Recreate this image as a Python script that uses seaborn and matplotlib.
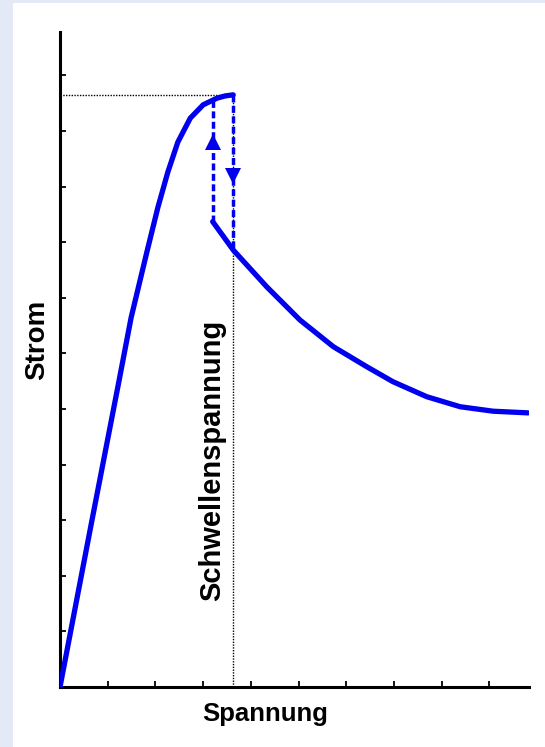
import matplotlib
matplotlib.use("Agg")
import matplotlib.pyplot as plt
import seaborn as sns
import pandas as pd
from matplotlib.patches import Rectangle

# data (in tick units)
rise_x = [0.0, 0.65, 1.22, 1.49, 1.82, 2.05, 2.26, 2.47, 2.73, 3.00, 3.29, 3.46, 3.63]
rise_y = [0.0, 2.91, 5.43, 6.64, 7.82, 8.62, 9.26, 9.80, 10.23, 10.47, 10.59, 10.63, 10.65]
fall_x = [3.20, 3.63, 4.33, 5.03, 5.73, 6.43, 6.98, 7.69, 8.39, 9.08, 9.81]
fall_y = [8.37, 7.86, 7.20, 6.60, 6.12, 5.76, 5.49, 5.22, 5.04, 4.96, 4.93]
up_x, up_y0, up_y1 = 3.20, 8.37, 10.58
down_x, down_y0, down_y1 = 3.63, 10.65, 7.86
peak_x, peak_y = 3.63, 10.65
x_ticks = [1, 2, 3, 4, 5, 6, 7, 8, 9]
y_ticks = [1, 2, 3, 4, 5, 6, 7, 8, 9, 10, 11]
x_label = "Spannung"
y_label = "Strom"
thr_label = "Schwellenspannung"

sns.set_style("ticks")
plt.rcParams['font.family'] = ['Liberation Sans', 'DejaVu Sans']
plt.rcParams['text.color'] = 'black'
plt.rcParams['axes.labelcolor'] = 'black'

fig = plt.figure(figsize=(5.45, 7.47), dpi=100)
fig.patch.set_facecolor('#e4e9f7')
fig.patches.append(Rectangle((13/545, 0), 1, 1 - 3/747, transform=fig.transFigure,
                             facecolor='white', edgecolor='none', zorder=-10))
ax = fig.add_axes([60/545, 1 - 687/747, (529-60)/545, (687-32)/747])
ax.set_zorder(5)
ax.set_facecolor('none')

blue = '#0000ee'
rise = pd.DataFrame({'x': rise_x, 'y': rise_y})
fall = pd.DataFrame({'x': fall_x, 'y': fall_y})

# dotted guide lines
ax.plot([0, peak_x], [peak_y, peak_y], color='black', lw=1.0, ls=(0, (1, 1)), zorder=1)
ax.plot([peak_x, peak_x], [0, peak_y], color='black', lw=1.0, ls=(0, (1, 1)), zorder=1)

# dashed jumps
ax.plot([up_x, up_x], [up_y0, up_y1], color=blue, lw=2.5, ls=(0, (2, 1)), zorder=2)
ax.plot([down_x, down_x], [down_y0, down_y1], color=blue, lw=2.5, ls=(0, (2, 1)), zorder=2)
ax.plot([up_x], [9.80], marker='^', ms=11, color=blue, zorder=3, markeredgewidth=0)
ax.plot([down_x], [9.19], marker='v', ms=11, color=blue, zorder=3, markeredgewidth=0)

sns.lineplot(data=rise, x='x', y='y', ax=ax, color=blue, lw=3.8, sort=False,
             estimator=None, zorder=4, solid_joinstyle='round')
sns.lineplot(data=fall, x='x', y='y', ax=ax, color=blue, lw=3.8, sort=False,
             estimator=None, zorder=4, solid_joinstyle='round')

ax.set_xlim(0, 9.83)
ax.set_ylim(0, 11.78)
ax.set_xticks(x_ticks)
ax.set_yticks(y_ticks)
ax.set_xticklabels([])
ax.set_yticklabels([])
ax.tick_params(direction='in', length=4, width=1.3, color='black')
for s in ['top', 'right']:
    ax.spines[s].set_visible(False)
for s in ['left', 'bottom']:
    ax.spines[s].set_linewidth(2.2)
    ax.spines[s].set_color('black')

ax.set_xlabel(x_label, fontsize=18.5, fontweight='bold', color='black', va='center')
ax.set_ylabel(y_label, fontsize=20, fontweight='bold', color='black', va='center')
ax.xaxis.set_label_coords((265.5 - 60) / 469, (687 - 714) / 655)
ax.yaxis.set_label_coords((37.5 - 60) / 469, (687 - 340) / 655)
ax.text(3.20, 4.08, thr_label, rotation=90, ha='center', va='center',
        fontsize=21, fontweight='bold', color='black')

fig.savefig('out.png', dpi=100, facecolor=fig.get_facecolor())
